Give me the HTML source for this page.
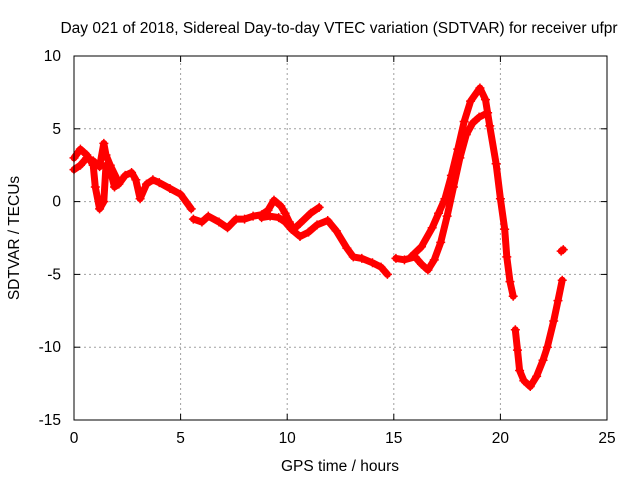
<!DOCTYPE html>
<html><head><meta charset="utf-8"><style>
body{margin:0;background:#fff}
svg text{font-family:"Liberation Sans",sans-serif;font-size:15.5px;fill:#000}
</style></head><body>
<svg width="640" height="480" xmlns="http://www.w3.org/2000/svg">
<rect width="640" height="480" fill="#fff"/>
<text x="339" y="33" text-anchor="middle">Day 021 of 2018, Sidereal Day-to-day VTEC variation (SDTVAR) for receiver ufpr</text>
<g id="grid"></g>
<g id="series"></g>
<rect x="74" y="56" width="533" height="364" fill="none" stroke="#000"/>
<g id="axes"></g>
<text x="340" y="471" text-anchor="middle">GPS time / hours</text>
<text transform="translate(19,238) rotate(-90)" text-anchor="middle">SDTVAR / TECUs</text>
</svg>
<script>
const xTicks=[0,5,10,15,20,25];
const yTicks=[10,5,0,-5,-10,-15];
const seriesA=[[0,3],[0.3,3.6],[0.6,3.2],[0.9,2.5],[1.0,1],[1.2,-0.5],[1.4,0],[1.5,2.5],[1.7,2.2],[1.9,1.0],[2.1,1.2],[2.4,1.8],[2.7,2.0],[2.9,1.5],[3.1,0.2],[3.4,1.2],[3.7,1.5],[4.0,1.3],[4.5,0.9],[5.0,0.5],[5.5,-0.5]];
const seriesA2=[[0,2.2],[0.3,2.5],[0.6,3.0],[0.9,2.8],[1.2,2.4],[1.4,4.0],[1.5,3.2],[1.7,2.5],[2.0,1.6]];
const seriesB=[[5.6,-1.2],[6.0,-1.4],[6.3,-1.0],[6.8,-1.4],[7.2,-1.8],[7.6,-1.2],[8.0,-1.2],[8.4,-1.0],[8.8,-0.9],[9.1,-0.6],[9.38,0.1],[9.7,-0.3],[9.9,-0.8],[10.1,-1.4],[10.3,-1.9],[10.6,-1.5],[11.1,-0.8],[11.5,-0.4]];
const seriesB2=[[8.8,-1.1],[9.2,-1.0],[9.6,-1.1],[9.9,-1.4],[10.2,-1.9],[10.6,-2.4],[11.0,-2.1],[11.4,-1.6],[11.9,-1.3],[12.3,-2.0],[12.8,-3.2],[13.1,-3.8],[13.5,-3.9],[14.0,-4.2],[14.4,-4.5],[14.7,-5.0]];
const seriesC=[[15.1,-3.9],[15.5,-4.0],[16.0,-3.8],[16.3,-4.3],[16.6,-4.7],[16.9,-4.0],[17.2,-2.8],[17.5,-1.0],[17.8,1.0],[18.1,3.0],[18.4,4.6],[18.7,5.4],[19.0,5.8],[19.4,6.1]];
const seriesC2=[[15.8,-3.8],[16.3,-3.1],[16.8,-1.8],[17.1,-0.8],[17.4,0.2],[17.7,1.8],[18.0,3.6],[18.3,5.5],[18.6,6.9],[19.04,7.8],[19.3,7.0],[19.5,5.2],[19.8,2.6],[20.0,0.2],[20.2,-1.9],[20.3,-3.8],[20.45,-5.5],[20.6,-6.5]];
const seriesD=[[20.7,-8.8],[20.8,-10.2],[20.9,-11.6],[21.1,-12.3],[21.4,-12.7],[21.7,-12.0],[22.0,-10.9],[22.2,-10.0],[22.5,-8.2],[22.7,-6.8],[22.9,-5.4]];
const seriesE=[[22.85,-3.4],[22.95,-3.3]];
const X0=74,X1=607,Y0=420,Y1=56;
const xs=t=>X0+(t-0)/25*(X1-X0);
const ys=v=>Y0-(v+15)/25*(Y0-Y1);
const NS="http://www.w3.org/2000/svg";
const grid=document.getElementById('grid'),axes=document.getElementById('axes'),ser=document.getElementById('series');
function mk(tag,attrs,parent){const e=document.createElementNS(NS,tag);for(const k in attrs)e.setAttribute(k,attrs[k]);parent.appendChild(e);return e;}
xTicks.forEach(t=>{const x=xs(t);
 if(t>0&&t<25){const g=mk('line',{x1:x,x2:x,y1:Y0,y2:Y1,stroke:'#a0a0a0','stroke-dasharray':'2,3'},grid);
 
 }
 mk('line',{x1:x,x2:x,y1:Y0,y2:Y0-6,stroke:'#000'},axes);mk('line',{x1:x,x2:x,y1:Y1,y2:Y1+6,stroke:'#000'},axes);
 const l=mk('text',{x:x,y:Y0+23,'text-anchor':'middle'},axes);l.textContent=t;
 
 });
yTicks.forEach(v=>{const y=ys(v);
 if(v>-15&&v<10){const g=mk('line',{x1:X0,x2:X1,y1:y,y2:y,stroke:'#a0a0a0','stroke-dasharray':'2,3'},grid);
 
 }
 mk('line',{x1:X0,x2:X0+6,y1:y,y2:y,stroke:'#000'},axes);mk('line',{x1:X1,x2:X1-6,y1:y,y2:y,stroke:'#000'},axes);
 const l=mk('text',{x:X0-13,y:y+5,'text-anchor':'end'},axes);l.textContent=v;
 
 });
[seriesA,seriesA2,seriesB,seriesB2,seriesC,seriesC2,seriesD,seriesE].forEach(s=>{
 const d=s.map((p,i)=>(i?'L':'M')+xs(p[0]).toFixed(1)+','+ys(p[1]).toFixed(1)).join(' ');
 const p=mk('path',{d:d,fill:'none',stroke:'#f00','stroke-width':7,'stroke-linejoin':'round','stroke-linecap':'round'},ser);
 
 
 s.forEach(q=>{const x=xs(q[0]),y=ys(q[1]);
  const m=mk('path',{d:`M${x-4.5},${y}H${x+4.5}M${x},${y-4.5}V${y+4.5}`,stroke:'#f00','stroke-width':1.5},ser);
  
  });
});
</script>
</body></html>
